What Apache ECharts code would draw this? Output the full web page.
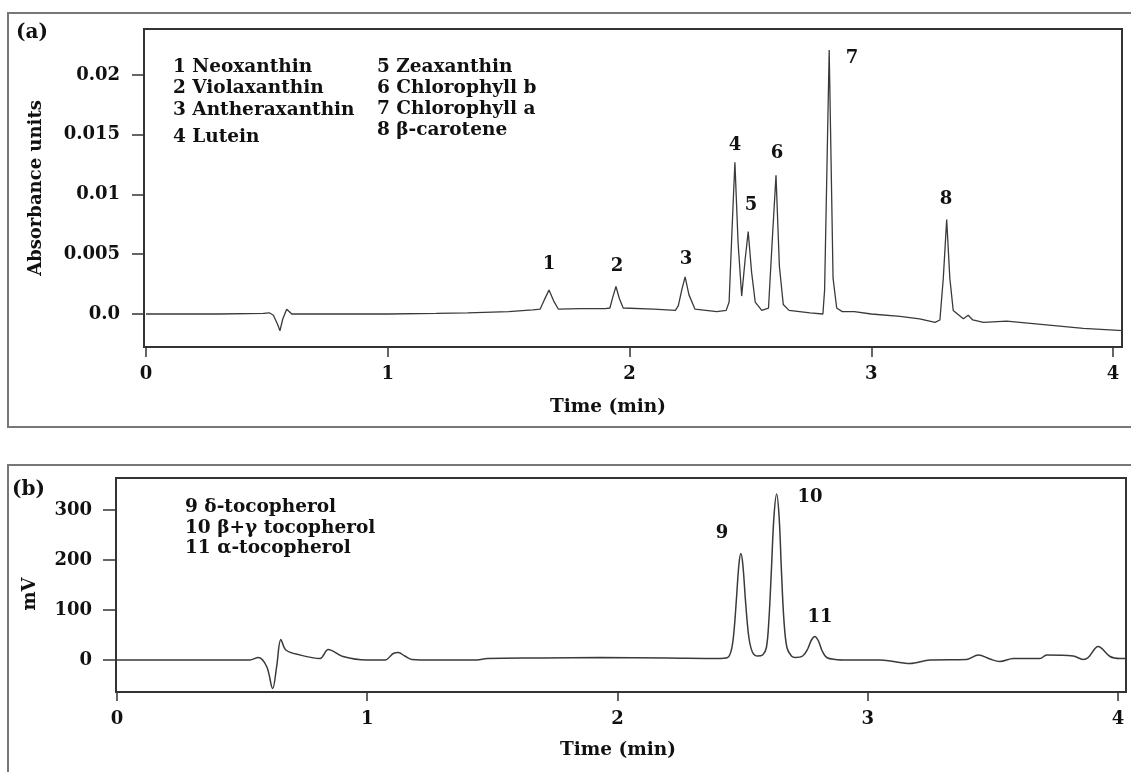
<!DOCTYPE html>
<html>
<head>
<meta charset="utf-8">
<script src="https://cdn.jsdelivr.net/npm/echarts@6/dist/echarts.min.js"></script>
<style>
html,body{margin:0;padding:0;background:#fff;}
#chart{width:1131px;height:772px;}
</style>
</head>
<body>
<div id="chart"></div>
<script>
// ---------- Panel (a): carotenoids & chlorophylls (absorbance) ----------
const timeA = [0.000,0.300,0.485,0.510,0.527,0.545,0.554,0.566,0.582,0.603,0.800,1.000,1.200,1.330,1.500,1.600,
  1.630,1.648,1.667,1.686,1.706,1.800,1.900,1.919,1.932,1.944,1.958,1.974,2.100,2.190,2.202,2.216,2.230,2.246,2.271,
  2.361,2.400,2.412,2.424,2.436,2.449,2.464,2.478,2.491,2.505,2.520,2.547,2.575,2.590,2.606,2.620,2.636,2.660,2.747,
  2.800,2.807,2.826,2.842,2.857,2.880,2.930,3.000,3.119,3.200,3.264,3.284,3.298,3.312,3.325,3.339,3.381,3.401,3.420,
  3.464,3.560,3.670,3.877,4.040];
const absA = [0,0,0.00005,0.0001,-0.0001,-0.0009,-0.0014,-0.0004,0.0004,0,0,0,0.00005,0.0001,0.0002,0.00035,
  0.0004,0.0012,0.0020,0.0011,0.0004,0.00045,0.00045,0.0005,0.0015,0.0023,0.0013,0.0005,0.0004,0.0003,0.0007,0.0020,0.0031,0.0016,0.0004,
  0.0002,0.0003,0.0010,0.0070,0.0127,0.0060,0.0015,0.0045,0.0069,0.0035,0.0010,0.0003,0.0005,0.0060,0.0116,0.0040,0.0008,0.0003,0.0001,
  0.0000,0.0020,0.0221,0.0030,0.0005,0.0002,0.0002,0.0000,-0.0002,-0.0004,-0.0007,-0.0005,0.0030,0.0079,0.0030,0.0003,-0.0004,-0.0001,-0.0005,
  -0.0007,-0.0006,-0.0008,-0.0012,-0.0014];
const xTicksA = [0,1,2,3,4];
const yTicksA = [0,0.005,0.01,0.015,0.02];
const yTickLabelsA = ["0.0","0.005","0.01","0.015","0.02"];
const legendA1 = ["1 Neoxanthin","2 Violaxanthin","3 Antheraxanthin","4 Lutein"];
const legendA2 = ["5 Zeaxanthin","6 Chlorophyll b","7 Chlorophyll a","8 β-carotene"];
const peakNamesA = ["1","2","3","4","5","6","7","8"];

// ---------- Panel (b): tocopherols (mV) ----------
const timeB = [0.000,0.300,0.531,0.564,0.598,0.622,0.638,0.655,0.675,0.731,0.811,0.844,0.903,0.998,1.071,1.104,1.124,1.150,1.178,
  1.264,1.437,1.480,1.700,1.930,2.200,2.400,2.440,2.455,2.465,2.475,2.485,2.493,2.501,2.512,2.525,2.540,2.560,
  2.580,2.595,2.605,2.615,2.625,2.636,2.646,2.655,2.665,2.677,2.695,2.710,2.740,2.760,2.775,2.789,2.803,2.818,2.836,2.870,
  2.916,3.049,3.169,3.249,3.395,3.442,3.488,3.528,3.582,3.688,3.715,3.821,3.861,3.881,3.921,3.968,4.008,4.030];
const mvB = [0,0,0,5,-13,-57,-13,41,20,10,3,21,7,0,0,13,15,8,1,
  0,0,3,4,5,4,3,5,20,55,120,190,213,190,115,45,15,8,
  10,25,80,180,285,332,285,180,80,25,8,5,8,22,40,47,38,18,5,1,
  0,0,-7,0,1,10,2,-3,3,3,10,8,1,5,27,7,3,3];
const xTicksB = [0,1,2,3,4];
const yTicksB = [0,100,200,300];
const yTickLabelsB = ["0","100","200","300"];
const legendB = ["9 δ-tocopherol","10 β+γ tocopherol","11 α-tocopherol"];
const peakNamesB = ["9","10","11"];

const FONT = "DejaVu Serif";
const TXT = "#111";
const LINE = "#3a3a3a";

const dataA = timeA.map((t,i)=>[t,absA[i]]);
const dataB = timeB.map((t,i)=>[t,mvB[i]]);

function nearestLabel(v, vals, labels){
  let bi=0, bd=Infinity;
  vals.forEach((x,i)=>{const d=Math.abs(x-v); if(d<bd){bd=d;bi=i;}});
  return labels[bi];
}

const labelStyle = {fontFamily:FONT,fontWeight:'bold',fontSize:18,color:TXT};

function txt(x,y,s,opts){
  return {type:'text',x:x,y:y,style:Object.assign({text:s,font:'bold 18px "'+FONT+'"',fill:TXT,textAlign:'left',textVerticalAlign:'middle'},opts||{})};
}

const graphics = [];
// outer frames
graphics.push({type:'rect',shape:{x:8,y:13,width:1140,height:414},style:{fill:null,stroke:'#777',lineWidth:2}});
graphics.push({type:'rect',shape:{x:8,y:465,width:1140,height:400},style:{fill:null,stroke:'#777',lineWidth:2}});
// panel tags
graphics.push(txt(16,33,"(a)",{font:'bold 20px "'+FONT+'"'}));
graphics.push(txt(12,490,"(b)",{font:'bold 20px "'+FONT+'"'}));
// legend texts
const LEGFONT = 'bold 18.5px "'+FONT+'"';
const legA1Y=[67,88,110,137], legA2Y=[67,88,109,130];
legendA1.forEach((s,i)=>graphics.push(txt(173,legA1Y[i],s,{font:LEGFONT})));
legendA2.forEach((s,i)=>graphics.push(txt(377,legA2Y[i],s,{font:LEGFONT})));
const legBY=[507,528,548];
legendB.forEach((s,i)=>graphics.push(txt(185,legBY[i],s,{font:LEGFONT})));
// axis titles
graphics.push(txt(608,407,"Time (min)",{textAlign:'center',font:LEGFONT}));
graphics.push(txt(618,750,"Time (min)",{textAlign:'center',font:LEGFONT}));
graphics.push(Object.assign(txt(36,188,"Absorbance units",{textAlign:'center'}),{rotation:Math.PI/2}));
graphics.push(Object.assign(txt(30,594,"mV",{textAlign:'center'}),{rotation:Math.PI/2}));
// peak labels
const peakPosA=[[549,264],[617,266],[686,259],[735,145],[751,205],[777,153],[852,58],[946,199]];
peakNamesA.forEach((s,i)=>graphics.push(txt(peakPosA[i][0],peakPosA[i][1],s,{textAlign:'center'})));
const peakPosB=[[722,533],[810,497],[820,617]];
peakNamesB.forEach((s,i)=>graphics.push(txt(peakPosB[i][0],peakPosB[i][1],s,{textAlign:'center'})));

const chart = echarts.init(document.getElementById('chart'),null,{renderer:'canvas'});
chart.setOption({
  animation:false,
  backgroundColor:'#fff',
  grid:[
    {left:144,top:29,width:978,height:318,show:true,borderColor:'#333',borderWidth:2,backgroundColor:'transparent'},
    {left:116,top:478,width:1010,height:214,show:true,borderColor:'#333',borderWidth:2,backgroundColor:'transparent'}
  ],
  xAxis:[
    {type:'value',gridIndex:0,min:-0.00827,max:4.0372,
     axisLine:{show:false,onZero:false},splitLine:{show:false},
     axisTick:{show:true,inside:false,length:10,customValues:xTicksA,lineStyle:{color:'#333',width:1.5}},
     axisLabel:{show:true,margin:18,customValues:xTicksA,formatter:v=>String(Math.round(v)),...labelStyle}},
    {type:'value',gridIndex:1,min:-0.004,max:4.032,
     axisLine:{show:false,onZero:false},splitLine:{show:false},
     axisTick:{show:true,inside:false,length:9,customValues:xTicksB,lineStyle:{color:'#333',width:1.5}},
     axisLabel:{show:true,margin:18,customValues:xTicksB,formatter:v=>String(Math.round(v)),...labelStyle}}
  ],
  yAxis:[
    {type:'value',gridIndex:0,min:-0.002762,max:0.023849,
     axisLine:{show:false,onZero:false},splitLine:{show:false},
     axisTick:{show:true,inside:false,length:12,customValues:yTicksA,lineStyle:{color:'#333',width:1.5}},
     axisLabel:{show:true,margin:24,customValues:yTicksA,formatter:v=>nearestLabel(v,yTicksA,yTickLabelsA),...labelStyle}},
    {type:'value',gridIndex:1,min:-64,max:364,
     axisLine:{show:false,onZero:false},splitLine:{show:false},
     axisTick:{show:true,inside:false,length:13,customValues:yTicksB,lineStyle:{color:'#333',width:1.5}},
     axisLabel:{show:true,margin:24,customValues:yTicksB,formatter:v=>nearestLabel(v,yTicksB,yTickLabelsB),...labelStyle}}
  ],
  series:[
    {type:'line',xAxisIndex:0,yAxisIndex:0,data:dataA,showSymbol:false,symbol:'none',
     lineStyle:{color:LINE,width:1.3},clip:true},
    {type:'line',xAxisIndex:1,yAxisIndex:1,data:dataB,showSymbol:false,symbol:'none',smooth:0.35,
     lineStyle:{color:LINE,width:1.5},clip:true}
  ],
  graphic:graphics
});
</script>
</body>
</html>
